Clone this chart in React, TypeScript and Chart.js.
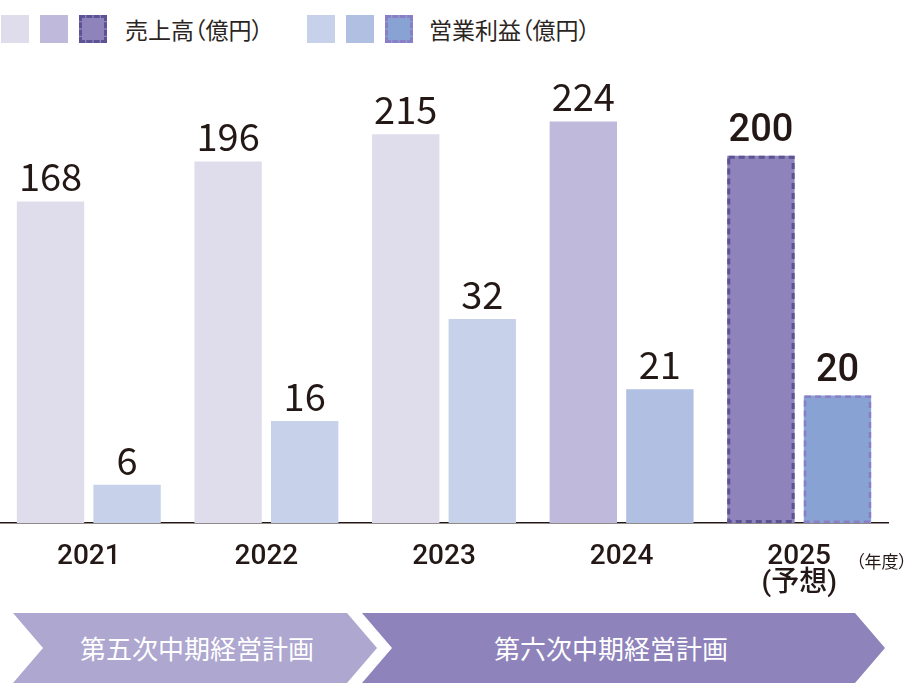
import React, { useEffect, useRef } from "react";
import { Chart, registerables } from "chart.js";

Chart.register(...registerables);

// ---- data ----
const YEARS: (string | string[])[] = ["2021", "2022", "2023", "2024", ["2025", "(予想)"]];
const SALES: number[] = [168, 196, 215, 224, 200];
const PROFIT: number[] = [6, 16, 32, 21, 20];
const SALES_LABEL = "売上高（億円）";
const PROFIT_LABEL = "営業利益（億円）";
const PLAN_LABELS: string[] = ["第五次中期経営計画", "第六次中期経営計画"];
const UNIT_LABEL = "（年度）";
const FORECAST_INDEX = 4;

// ---- axis ranges (stylised infographic scales) ----
const SALES_MIN = -57;
const SALES_MAX = 253;
const PROFIT_MIN = 0;
const PROFIT_MAX = 69.5;

// ---- styles ----
const SALES_COLORS = ["#dfdcec", "#dfdcec", "#dfdcec", "#bfbadb", "#8e83ba"];
const PROFIT_COLORS = ["#c7d1ea", "#c7d1ea", "#c7d1ea", "#b1bfe2", "#87a2d3"];
const SALES_DASH = "#5c5394";
const PROFIT_DASH = "#8a7fc6";
const TEXT = "#231815";
const CJK = '"Noto Sans CJK JP", "Noto Sans", sans-serif';

const valueLabelPlugin = {
  id: "valueLabels",
  afterDatasetsDraw(chart: any) {
    const ctx = chart.ctx;
    ctx.save();
    ctx.textAlign = "center";
    ctx.textBaseline = "alphabetic";
    ctx.fillStyle = TEXT;
    chart.data.datasets.forEach((ds: any, di: number) => {
      const meta = chart.getDatasetMeta(di);
      meta.data.forEach((el: any, i: number) => {
        const { x, y } = el.getProps(["x", "y"], true);
        const forecast = i === FORECAST_INDEX;
        ctx.font = forecast
          ? '500 38px Roboto, "Liberation Sans", sans-serif'
          : '400 38px "Noto Sans CJK JP", "Noto Sans", sans-serif';
        ctx.fillText(String(ds.data[i]), x, y - (forecast ? 15 : 10));
      });
    });
    ctx.restore();
  },
};

const dashedBorderPlugin = {
  id: "dashedBorder",
  afterDatasetsDraw(chart: any) {
    const ctx = chart.ctx;
    const colors = [SALES_DASH, PROFIT_DASH];
    const widths = [3, 2.5];
    chart.data.datasets.forEach((_ds: any, di: number) => {
      const el: any = chart.getDatasetMeta(di).data[FORECAST_INDEX];
      if (!el) return;
      const { x, y, base, width } = el.getProps(["x", "y", "base", "width"], true);
      const lw = widths[di];
      ctx.save();
      ctx.strokeStyle = colors[di];
      ctx.lineWidth = lw;
      ctx.setLineDash([6, 4]);
      ctx.strokeRect(x - width / 2 + lw / 2, y + lw / 2, width - lw, base - y - lw);
      ctx.restore();
    });
  },
};

function LegendSquare({ color, dash }: { color: string; dash?: string }) {
  return (
    <div
      style={{
        width: 28,
        height: 28,
        boxSizing: "border-box",
        background: color,
        border: dash ? `3px dashed ${dash}` : "none",
        flex: "0 0 auto",
        marginRight: 11,
      }}
    />
  );
}

export default function App() {
  const canvasRef = useRef<HTMLCanvasElement | null>(null);

  useEffect(() => {
    if (!canvasRef.current) return;
    const chart = new Chart(canvasRef.current, {
      type: "bar",
      data: {
        labels: YEARS,
        datasets: [
          {
            label: SALES_LABEL,
            data: SALES,
            backgroundColor: SALES_COLORS,
            yAxisID: "y",
            base: SALES_MIN,
            barPercentage: 0.88,
            categoryPercentage: 0.862,
            borderWidth: 0,
          } as any,
          {
            label: PROFIT_LABEL,
            data: PROFIT,
            backgroundColor: PROFIT_COLORS,
            yAxisID: "y1",
            base: PROFIT_MIN,
            barPercentage: 0.88,
            categoryPercentage: 0.862,
            borderWidth: 0,
          } as any,
        ],
      },
      options: {
        responsive: false,
        animation: false,
        layout: { padding: { left: 0, right: 18, top: 80, bottom: 0 } },
        plugins: {
          legend: { display: false },
          tooltip: { enabled: false },
        },
        scales: {
          x: {
            grid: { display: false, drawTicks: false },
            border: { display: true, color: TEXT, width: 1.5 },
            ticks: {
              color: TEXT,
              padding: 21,
              maxRotation: 0,
              autoSkip: false,
              font: { family: 'Roboto, "Noto Sans CJK JP", sans-serif', size: 28, weight: "500", lineHeight: 0.95 },
            },
            afterFit: (scale: any) => {
              scale.height = 77;
            },
          },
          y: { display: false, min: SALES_MIN, max: SALES_MAX },
          y1: { display: false, min: PROFIT_MIN, max: PROFIT_MAX },
        },
      } as any,
      plugins: [valueLabelPlugin, dashedBorderPlugin],
    });
    return () => chart.destroy();
  }, []);

  const legendText: React.CSSProperties = {
    fontSize: 23,
    color: "#2b2522",
    fontFamily: CJK,
    fontFeatureSettings: '"palt"',
    lineHeight: "28px",
    whiteSpace: "nowrap",
  };

  const bannerText: React.CSSProperties = {
    position: "absolute",
    top: 613,
    height: 70,
    lineHeight: "70px",
    color: "#ffffff",
    fontSize: 26,
    fontFamily: CJK,
    whiteSpace: "nowrap",
    transform: "translateX(-50%)",
  };

  return (
    <div
      style={{
        position: "absolute",
        left: 0,
        top: 0,
        width: 906,
        height: 687,
        background: "#ffffff",
        overflow: "hidden",
      }}
    >
      {/* legend */}
      <div style={{ position: "absolute", left: 1, top: 15, display: "flex", alignItems: "center" }}>
        <LegendSquare color={SALES_COLORS[0]} />
        <LegendSquare color={SALES_COLORS[3]} />
        <LegendSquare color={SALES_COLORS[4]} dash={SALES_DASH} />
        <span style={{ ...legendText, marginLeft: 7 }}>{SALES_LABEL}</span>
      </div>
      <div style={{ position: "absolute", left: 307, top: 15, display: "flex", alignItems: "center" }}>
        <LegendSquare color={PROFIT_COLORS[0]} />
        <LegendSquare color={PROFIT_COLORS[3]} />
        <LegendSquare color={PROFIT_COLORS[4]} dash={PROFIT_DASH} />
        <span style={{ ...legendText, marginLeft: 5 }}>{PROFIT_LABEL}</span>
      </div>

      {/* chart */}
      <div style={{ position: "absolute", left: 0, top: 0, width: 906, height: 600 }}>
        <canvas ref={canvasRef} width={906} height={600} style={{ width: 906, height: 600, display: "block" }} />
      </div>

      {/* unit */}
      <div
        style={{
          position: "absolute",
          left: 856,
          top: 549,
          fontSize: 17,
          lineHeight: "24px",
          color: TEXT,
          fontFamily: CJK,
          fontFeatureSettings: '"palt"',
          whiteSpace: "nowrap",
        }}
      >
        {UNIT_LABEL}
      </div>

      {/* plan banners */}
      <div
        style={{
          position: "absolute",
          left: 0,
          top: 0,
          width: 906,
          height: 687,
          background: "#aea7d0",
          clipPath: "polygon(13px 613px, 347px 613px, 377px 648px, 347px 683px, 13px 683px, 43px 648px)",
        }}
      />
      <div
        style={{
          position: "absolute",
          left: 0,
          top: 0,
          width: 906,
          height: 687,
          background: "#8e83ba",
          clipPath: "polygon(362px 613px, 855px 613px, 885px 648px, 855px 683px, 362px 683px, 392px 648px)",
        }}
      />
      <div style={{ ...bannerText, left: 197 }}>{PLAN_LABELS[0]}</div>
      <div style={{ ...bannerText, left: 611 }}>{PLAN_LABELS[1]}</div>
    </div>
  );
}
